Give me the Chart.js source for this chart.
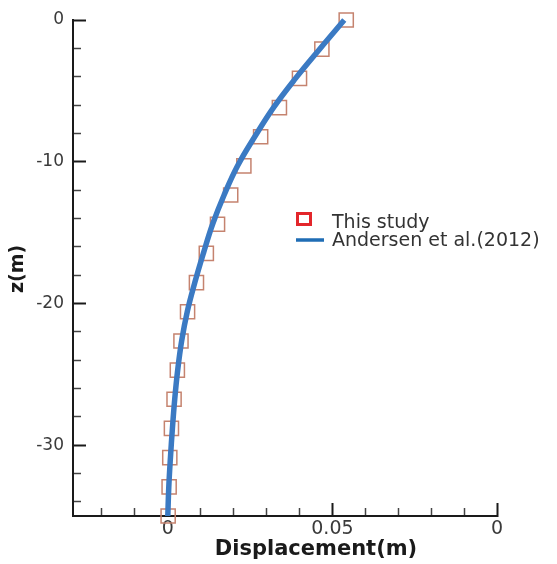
<!DOCTYPE html>
<html>
<head>
<meta charset="utf-8">
<script src="https://cdn.jsdelivr.net/npm/chart.js@4/dist/chart.umd.min.js"></script>
<style>
  html, body { margin: 0; padding: 0; background: #ffffff; }
  #wrap { width: 557px; height: 564px; }
</style>
</head>
<body>
<div id="wrap"><canvas id="c" width="557" height="564"></canvas></div>
<script>
// Depth below the pile head (m)
const depth = [0, -2.06, -4.12, -6.18, -8.24, -10.29, -12.35, -14.41, -16.47,
               -18.53, -20.59, -22.65, -24.71, -26.76, -28.82, -30.88, -32.94, -35];
// Lateral displacement, present model (m)
const studyDisp = [0.0542, 0.0468, 0.0400, 0.0339, 0.0282, 0.0231, 0.0191, 0.0151, 0.0117,
                   0.0087, 0.0060, 0.0040, 0.0029, 0.0019, 0.0011, 0.0006, 0.0004, 0.0001];
// Lateral displacement, Andersen et al. (2012) (m)
const andersenDisp = [0.0536, 0.0461, 0.0388, 0.0321, 0.0264, 0.0212, 0.0171, 0.0136, 0.0108,
                      0.0082, 0.0059, 0.0042, 0.0030, 0.0021, 0.0014, 0.0008, 0.0003, 0.0000];

const seriesNames = ['This study', 'Andersen et al.(2012)'];

const xMajorTicks = [0, 0.05, 0.1];
const xTickLabels = ['0', '0.05', '0'];
const xMinorTicks = [-0.02, -0.01, 0.01, 0.02, 0.03, 0.04, 0.06, 0.07, 0.08, 0.09];
const yMajorTicks = [0, -10, -20, -30];
const yTickLabels = ['0', '-10', '-20', '-30'];
const yMinorTicks = [-2, -4, -6, -8, -12, -14, -16, -18, -22, -24, -26, -28, -32, -34];

const xTitle = 'Displacement(m)';
const yTitle = 'z(m)';

const X_MIN = -0.0288, X_MAX = 0.1, Y_MIN = -35, Y_MAX = 0;
const AXIS_COLOR = '#1a1a1a';
const LABEL_COLOR = '#3a3a3a';

// Fixed scale boxes so the plot area sits at a set place on the canvas
function fixBox(size) {
  return s => {
    if (s.isHorizontal()) s.height = size; else s.width = size;
    s.paddingTop = 0; s.paddingBottom = 0; s.paddingLeft = 0; s.paddingRight = 0;
  };
}

// Axis titles and the in-plot legend
const decorations = {
  id: 'decorations',
  afterDraw(chart) {
    const ctx = chart.ctx;
    ctx.save();
    ctx.fillStyle = '#1a1a1a';
    ctx.textAlign = 'center';
    ctx.textBaseline = 'middle';
    ctx.font = 'bold 21px "DejaVu Sans"';
    ctx.fillText(xTitle, 316, 550);
    ctx.translate(18, 269);
    ctx.rotate(-Math.PI / 2);
    ctx.font = 'bold 19px "DejaVu Sans"';
    ctx.fillText(yTitle, 0, 0);
    ctx.restore();

    ctx.save();
    ctx.strokeStyle = '#e3262b';
    ctx.lineWidth = 3;
    ctx.strokeRect(297.5, 213.5, 13, 11);
    ctx.strokeStyle = '#1f6db5';
    ctx.lineWidth = 3.5;
    ctx.beginPath();
    ctx.moveTo(296, 240);
    ctx.lineTo(324, 240);
    ctx.stroke();
    ctx.fillStyle = '#333333';
    ctx.font = '19px "DejaVu Sans"';
    ctx.textAlign = 'left';
    ctx.textBaseline = 'alphabetic';
    ctx.fillText(seriesNames[0], 332, 228);
    ctx.fillText(seriesNames[1], 332, 246);
    ctx.restore();
  }
};

const tickFontX = { family: 'DejaVu Sans', size: 19 };
const tickFontY = { family: 'DejaVu Sans', size: 17 };

new Chart(document.getElementById('c'), {
  type: 'scatter',
  data: {
    datasets: [
      {
        label: seriesNames[1],
        data: depth.map((z, i) => ({ x: andersenDisp[i], y: z })),
        showLine: true,
        borderColor: '#3b7ac3',
        borderWidth: 5.5,
        pointRadius: 0,
        tension: 0.4,
        clip: false,
        order: 0,
        xAxisID: 'x',
        yAxisID: 'y'
      },
      {
        label: seriesNames[0],
        data: depth.map((z, i) => ({ x: studyDisp[i], y: z })),
        showLine: false,
        pointStyle: 'rect',
        pointRadius: 10,
        borderColor: '#c5836f',
        borderWidth: 1.5,
        backgroundColor: 'rgba(0,0,0,0)',
        clip: false,
        order: 1,
        xAxisID: 'x',
        yAxisID: 'y'
      }
    ]
  },
  options: {
    responsive: false,
    animation: false,
    events: [],
    layout: { padding: { left: 0, top: 20, right: 60, bottom: 0 } },
    plugins: { legend: { display: false }, tooltip: { enabled: false } },
    scales: {
      x: {
        type: 'linear', position: 'bottom', min: X_MIN, max: X_MAX, weight: 1,
        afterBuildTicks: s => { s.ticks = xMajorTicks.map(v => ({ value: v })); },
        afterFit: fixBox(48),
        ticks: { autoSkip: false, maxRotation: 0, padding: 15, color: LABEL_COLOR, font: tickFontX,
                 callback: (v, i) => xTickLabels[i] },
        grid: { drawOnChartArea: false, tickLength: -13, tickWidth: 2, tickColor: AXIS_COLOR },
        border: { display: true, color: AXIS_COLOR, width: 2 }
      },
      xMinor: {
        type: 'linear', position: 'bottom', min: X_MIN, max: X_MAX, weight: 0,
        afterBuildTicks: s => { s.ticks = xMinorTicks.map(v => ({ value: v })); },
        afterFit: fixBox(0),
        ticks: { autoSkip: false, maxRotation: 0, callback: () => '' },
        grid: { drawOnChartArea: false, tickLength: -8, tickWidth: 1.5, tickColor: '#444444' },
        border: { display: false }
      },
      y: {
        type: 'linear', position: 'left', min: Y_MIN, max: Y_MAX, weight: 1,
        afterBuildTicks: s => { s.ticks = yMajorTicks.map(v => ({ value: v })); },
        afterFit: fixBox(73),
        ticks: { autoSkip: false, padding: 22, color: LABEL_COLOR, font: tickFontY,
                 callback: (v, i) => yTickLabels[i] },
        grid: { drawOnChartArea: false, tickLength: -13, tickWidth: 2, tickColor: AXIS_COLOR },
        border: { display: true, color: AXIS_COLOR, width: 2 }
      },
      yMinor: {
        type: 'linear', position: 'left', min: Y_MIN, max: Y_MAX, weight: 0,
        afterBuildTicks: s => { s.ticks = yMinorTicks.map(v => ({ value: v })); },
        afterFit: fixBox(0),
        ticks: { autoSkip: false, callback: () => '' },
        grid: { drawOnChartArea: false, tickLength: -8, tickWidth: 1.5, tickColor: '#444444' },
        border: { display: false }
      }
    }
  },
  plugins: [decorations]
});
</script>
</body>
</html>
